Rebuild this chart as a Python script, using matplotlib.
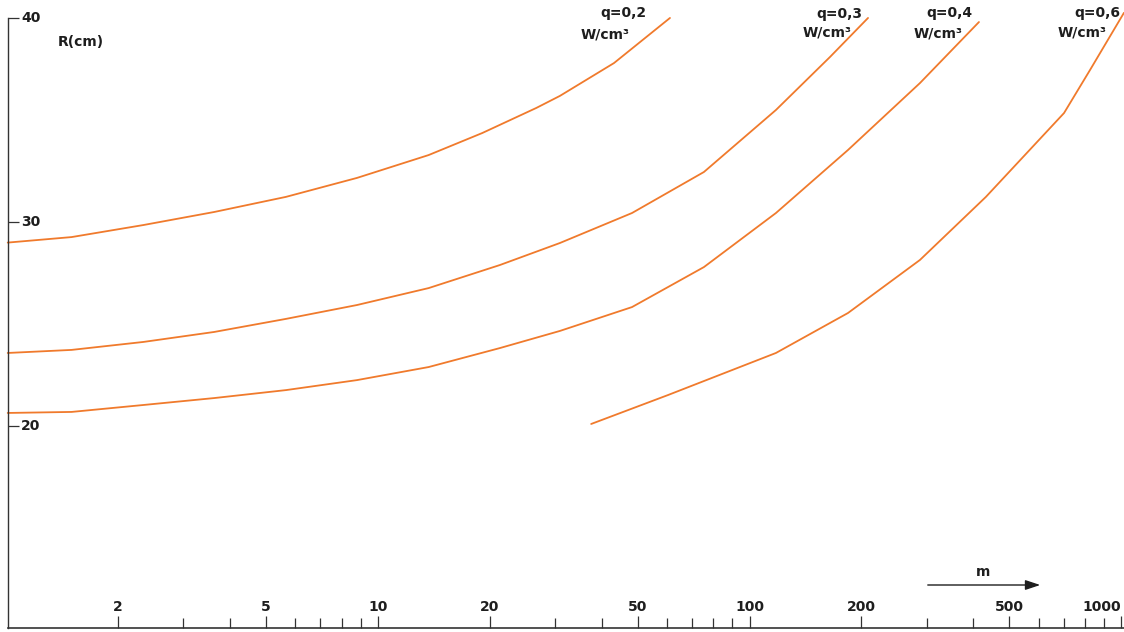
import matplotlib
matplotlib.use('Agg')
import matplotlib.pyplot as plt
import matplotlib.transforms as mtransforms

# curves R(cm) vs m, one per heat rate q (W/cm3)
m_02 = [1.01, 1.50, 2.34, 3.63, 5.66, 8.79, 13.7, 19.1, 26.7, 30.9, 43.2, 61.1]
r_02 = [28.99, 29.26, 29.85, 30.49, 31.23, 32.16, 33.28, 34.36, 35.59, 36.18, 37.79, 40.0]

m_03 = [1.01, 1.50, 2.34, 3.63, 5.66, 8.79, 13.7, 21.3, 30.9, 48.3, 75.4, 117.8, 164.7, 208.4]
r_03 = [23.58, 23.73, 24.12, 24.61, 25.25, 25.93, 26.76, 27.89, 28.97, 30.44, 32.45, 35.49, 38.09, 40.0]

m_04 = [1.01, 1.50, 2.34, 3.63, 5.66, 8.79, 13.7, 21.3, 30.9, 48.3, 75.4, 117.8, 184.1, 287.5, 414.3]
r_04 = [20.64, 20.69, 21.03, 21.37, 21.76, 22.25, 22.89, 23.82, 24.66, 25.83, 27.79, 30.44, 33.53, 36.81, 39.80]

m_06 = [37.5, 60.4, 117.8, 184.1, 287.5, 432.5, 701.8, 824.4, 1017]
r_06 = [20.10, 21.52, 23.58, 25.54, 28.14, 31.23, 35.34, 37.45, 40.25]

curve_labels = ['q=0,2', 'q=0,3', 'q=0,4', 'q=0,6']

y_ticks = [20, 30, 40]
x_major = [2, 5, 10, 20, 50, 100, 200, 500, 1000]
x_minor = [3, 4, 6, 7, 8, 9, 30, 40, 60, 70, 80, 90, 300, 400, 600, 700, 800, 900]

LINE = '#f07a2c'
INK = '#1e1e1e'

fig = plt.figure(figsize=(11.24, 6.32), dpi=100)
ax = fig.add_axes([8 / 1124, 4 / 632, 1116 / 1124, 628 / 632])
ax.set_xscale('log')
ax.set_xlim(1.0118, 1017.5)
ax.set_ylim(10.10, 40.88)

curves = [(m_02, r_02), (m_03, r_03), (m_04, r_04), (m_06, r_06)]
for m, r in curves:
    ax.plot(m, r, color=LINE, lw=1.3, solid_capstyle='round', solid_joinstyle='round',
            clip_on=False)

# curve labels, placed relative to the top end of each curve (pixel offsets)
q_offsets = [(-23, 5), (-6, 4), (-6, 9), (-4, 0)]
w_offsets = [(-40, -17), (-16, -15), (-16, -11), (-17, -20)]
for (m, r), lab, qo, wo in zip(curves, curve_labels, q_offsets, w_offsets):
    ax.annotate(lab, xy=(m[-1], r[-1]), xytext=qo, textcoords='offset pixels',
                ha='right', va='center', fontsize=10, fontweight='bold', color=INK,
                annotation_clip=False)
    ax.annotate('W/cm³', xy=(m[-1], r[-1]), xytext=wo, textcoords='offset pixels',
                ha='right', va='center', fontsize=10, fontweight='bold', color=INK,
                annotation_clip=False)

# spines
for s in ['top', 'right']:
    ax.spines[s].set_visible(False)
ax.spines['left'].set_bounds(10.10, 40)
ax.spines['left'].set_color('#333333')
ax.spines['bottom'].set_color('#333333')
ax.spines['left'].set_linewidth(1.0)
ax.spines['bottom'].set_linewidth(1.2)

# y ticks inside, labels drawn by hand to the right of the tick
ax.set_yticks(y_ticks)
ax.tick_params(axis='y', direction='in', length=8, width=0.9, color='#333333', labelleft=False)
ytrans = mtransforms.blended_transform_factory(ax.transAxes, ax.transData)
for v in y_ticks:
    ax.text(13 / 1116, v, str(v), transform=ytrans, ha='left', va='center',
            fontsize=10, fontweight='bold', color=INK)
ax.text(50 / 1116, 40 - 24 / 20.4, 'R(cm)', transform=ytrans, ha='left', va='center',
        fontsize=10, fontweight='bold', color=INK)

# x ticks inside, labels above them
ax.set_xticks(x_major)
ax.set_xticks(x_minor, minor=True)
ax.tick_params(axis='x', which='major', direction='in', length=9, width=0.9,
               color='#333333', labelbottom=False)
ax.tick_params(axis='x', which='minor', direction='in', length=7.5, width=0.9,
               color='#333333', labelbottom=False)
xtrans = mtransforms.blended_transform_factory(ax.transData, ax.transAxes)
for v in x_major:
    ha = 'right' if v == x_major[-1] else 'center'
    ax.text(v, 21 / 628, str(v), transform=xtrans, ha=ha, va='center',
            fontsize=10, fontweight='bold', color=INK)

# axis arrow with "m"
ax.annotate('', xy=(1043, 47), xytext=(925, 47), xycoords='figure pixels',
            textcoords='figure pixels',
            arrowprops=dict(arrowstyle='-|>,head_length=0.9,head_width=0.3',
                            color=INK, lw=1.0))
fig.text(983 / 1124, 1 - 572 / 632, 'm', ha='center', va='center', fontsize=10,
         fontweight='bold', color=INK)

fig.savefig('out.png', dpi=100)
